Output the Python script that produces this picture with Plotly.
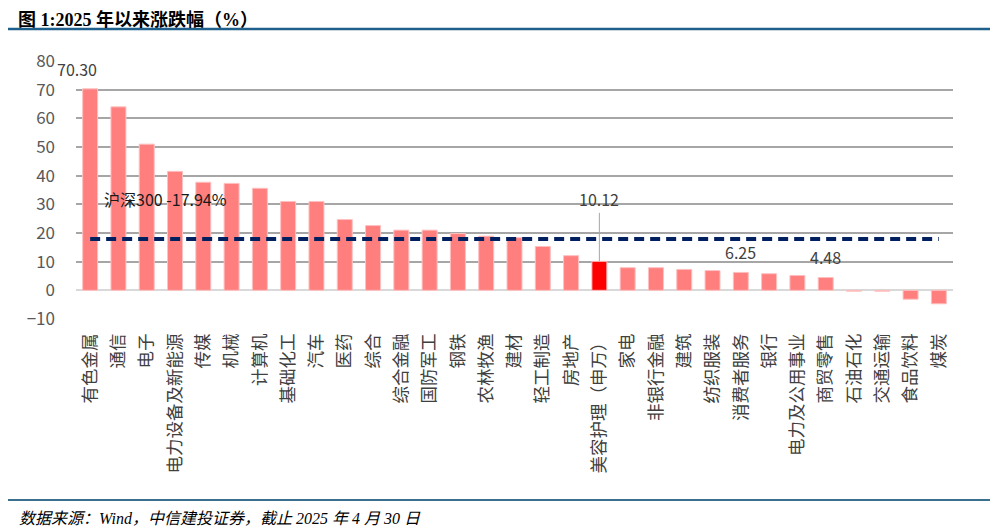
import plotly.graph_objects as go

W, H = 998, 530
OFF = 8  # the page body adds an 8px margin around the figure

# industries, sorted by change since start of 2025 (%)
industries = ['有色金属', '通信', '电子', '电力设备及新能源', '传媒', '机械', '计算机', '基础化工',
              '汽车', '医药', '综合', '综合金融', '国防军工', '钢铁', '农林牧渔', '建材', '轻工制造',
              '房地产', '美容护理（申万）', '家电', '非银行金融', '建筑', '纺织服装', '消费者服务',
              '银行', '电力及公用事业', '商贸零售', '石油石化', '交通运输', '食品饮料', '煤炭']
change = [70.30, 64.0, 51.0, 41.5, 37.7, 37.3, 35.6, 31.0, 31.0, 24.7, 22.6, 21.0, 21.0,
          19.8, 18.9, 18.4, 15.3, 12.1, 10.12, 7.9, 7.9, 7.3, 6.9, 6.25, 5.8, 5.2, 4.48,
          -0.3, -0.3, -3.1, -4.7]
hs300 = 17.94
highlight = '美容护理（申万）'

# which bars get a value label
labelled = ['有色金属', '消费者服务', '商贸零售']

cjk = 'Noto Sans CJK SC'
serif_cjk = 'Liberation Serif, Noto Sans CJK SC'


def px(x):
    return (x - OFF) / W


def py(y):
    return 1 - (y - OFF) / H


colors = ['#FF0000' if c == highlight else '#FF7F7F' for c in industries]

fig = go.Figure()
fig.add_trace(go.Bar(x=industries, y=change, marker_color=colors,
                     marker_line_color='#FFC0C0', marker_line_width=1,
                     showlegend=False, hoverinfo='x+y'))

# HS300 reference line
fig.add_trace(go.Scatter(x=[industries[0], industries[-1]], y=[hs300, hs300], mode='lines',
                         line=dict(color='#002060', width=4, dash='10px,6px'),
                         showlegend=False, hoverinfo='skip'))

# value labels
for name in labelled:
    v = change[industries.index(name)]
    fig.add_annotation(x=name, y=v, text='%.2f' % v, showarrow=False,
                       yshift=20, xshift=-13 if name == industries[0] else 0,
                       font=dict(family=cjk, size=16, color='#404040'))

# highlighted bar gets a leader line
hv = change[industries.index(highlight)]
fig.add_annotation(x=highlight, y=hv, text='%.2f' % hv, showarrow=True, arrowhead=0,
                   arrowwidth=1, arrowcolor='#A6A6A6', ax=0, ay=-62, standoff=0,
                   font=dict(family=cjk, size=16, color='#404040'))

fig.add_annotation(x=industries[0], y=32, text='沪深300 -17.94%', showarrow=False,
                   xanchor='left', xshift=12,
                   font=dict(family=cjk, size=16, color='#1a1a1a'))

# header / footer
fig.add_annotation(xref='paper', yref='paper', x=px(17), y=1, xanchor='left',
                   yanchor='top', showarrow=False, borderpad=0,
                   text='<b>图 1:2025 年以来涨跌幅（%）</b>',
                   font=dict(family=serif_cjk, size=18, color='#000000'))
fig.add_shape(type='line', xref='paper', yref='paper', x0=px(5), x1=1, y0=py(29),
              y1=py(29), line=dict(color='#1F5F8B', width=2.5))
fig.add_shape(type='line', xref='paper', yref='paper', x0=px(6), x1=1, y0=py(500),
              y1=py(500), line=dict(color='#3A6F8F', width=2))
fig.add_annotation(xref='paper', yref='paper', x=px(17), y=py(518), xanchor='left',
                   yanchor='middle', showarrow=False,
                   text='<i>数据来源：Wind，中信建投证券，截止 2025 年 4 月 30 日</i>',
                   font=dict(family=serif_cjk, size=16, color='#000000'))

fig.update_layout(
    width=W, height=H,
    margin=dict(l=0, r=0, t=0, b=0),
    plot_bgcolor='white', paper_bgcolor='white',
    bargap=0.47,
    xaxis=dict(domain=[px(76), px(953)], range=[-0.5, len(industries) - 0.5],
               tickangle=-90, showgrid=False, showline=False,
               ticks='', ticklabelstandoff=10, automargin=False,
               tickfont=dict(family=cjk, size=17.5, color='#404040')),
    yaxis=dict(domain=[py(319), py(61)], range=[-10, 80], dtick=10,
               showgrid=True, gridcolor='#A6A6A6', gridwidth=1.5,
               zeroline=True, zerolinecolor='#D9D9D9', zerolinewidth=2,
               showline=False, ticks='', ticklabelstandoff=20, automargin=False,
               tickfont=dict(family=cjk, size=17, color='#595959')),
)

fig.write_html('out.html')
